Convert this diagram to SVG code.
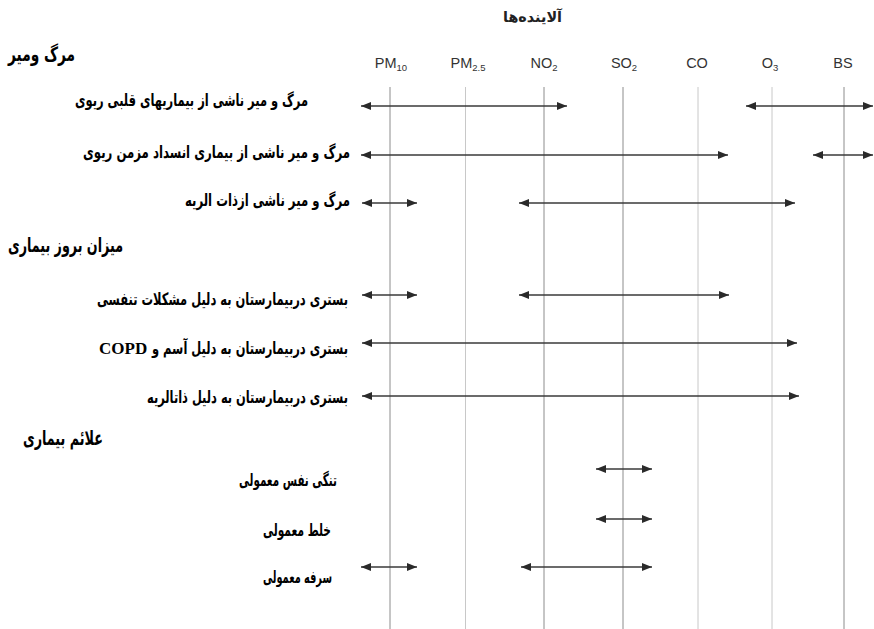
<svg xmlns="http://www.w3.org/2000/svg" width="874" height="629" viewBox="0 0 874 629">
<style>
.bg{fill:#fff}
.axis{stroke:#8c8c8c;stroke-width:1}
.axis.light{stroke:#c8c8c8}
.poll{font-family:"Liberation Sans",Arial,sans-serif;font-size:14.5px;fill:#333;text-anchor:middle}
.sub{font-size:9.5px}
.title{font-family:"DejaVu Sans",sans-serif;font-size:15px;font-weight:bold;fill:#222;direction:rtl;text-anchor:start}
.head{font-family:"DejaVu Sans",sans-serif;font-size:20px;font-weight:bold;fill:#000;direction:rtl;text-anchor:start}
.lab{font-family:"DejaVu Sans",sans-serif;font-size:17px;font-weight:bold;fill:#000;direction:rtl;text-anchor:start}
.lat{font-family:"Liberation Serif","Times New Roman",serif;font-size:17px;font-weight:bold;fill:#000}
.arr{stroke:#3a3a3a;stroke-width:1.4;fill:none;marker-start:url(#ah);marker-end:url(#ah)}
</style>
<defs>
<marker id="ah" viewBox="0 0 10 8" refX="10" refY="4" markerWidth="10" markerHeight="8" markerUnits="userSpaceOnUse" orient="auto-start-reverse">
<path d="M0,0 L10,4 L0,8 z" fill="#2a2a2a"/>
</marker>
</defs>
<rect class="bg" x="0" y="0" width="874" height="629"/>

<g id="pollutants">
<text class="title" x="562" y="22" textLength="59" lengthAdjust="spacingAndGlyphs">آلاینده‌ها</text>
<g id="col-pm10"><line class="axis" x1="390" y1="87" x2="390" y2="629"/><text class="poll" x="391" y="68">PM<tspan class="sub" dy="3">10</tspan></text></g>
<g id="col-pm25"><line class="axis light" x1="465.5" y1="87" x2="465.5" y2="629"/><text class="poll" x="468" y="68">PM<tspan class="sub" dy="3">2.5</tspan></text></g>
<g id="col-no2"><line class="axis" x1="544" y1="87" x2="544" y2="629"/><text class="poll" x="544" y="68">NO<tspan class="sub" dy="3">2</tspan></text></g>
<g id="col-so2"><line class="axis" x1="623" y1="87" x2="623" y2="629"/><text class="poll" x="624" y="68">SO<tspan class="sub" dy="3">2</tspan></text></g>
<g id="col-co"><line class="axis light" x1="698" y1="87" x2="698" y2="629"/><text class="poll" x="697" y="68">CO</text></g>
<g id="col-o3"><line class="axis light" x1="772" y1="87" x2="772" y2="629"/><text class="poll" x="770" y="68">O<tspan class="sub" dy="3">3</tspan></text></g>
<g id="col-bs"><line class="axis" x1="844" y1="87" x2="844" y2="629"/><text class="poll" x="843" y="68">BS</text></g>
</g>

<g id="sec-mortality"><text class="head" x="75" y="61" textLength="67" lengthAdjust="spacingAndGlyphs">مرگ ومیر</text></g>
<g id="row-cardio"><text class="lab" x="308" y="106" textLength="233" lengthAdjust="spacingAndGlyphs">مرگ و میر ناشی از بیماریهای قلبی ریوی</text></g>
<g id="row-copd-mort"><text class="lab" x="350" y="158" textLength="267" lengthAdjust="spacingAndGlyphs">مرگ و میر ناشی از بیماری انسداد مزمن ریوی</text></g>
<g id="row-pneu-mort"><text class="lab" x="350" y="206" textLength="165" lengthAdjust="spacingAndGlyphs">مرگ و میر ناشی ازذات الریه</text></g>

<g id="sec-incidence"><text class="head" x="123" y="252" textLength="115" lengthAdjust="spacingAndGlyphs">میزان بروز بیماری</text></g>
<g id="row-resp-hosp"><text class="lab" x="348" y="305" textLength="251" lengthAdjust="spacingAndGlyphs">بستری دربیمارستان به دلیل مشکلات تنفسی</text></g>
<g id="row-asthma-hosp"><text class="lab" x="348" y="354" textLength="196" lengthAdjust="spacingAndGlyphs">بستری دربیمارستان به دلیل آسم و</text><text class="lat" x="99" y="354">COPD</text></g>
<g id="row-pneu-hosp"><text class="lab" x="348" y="403" textLength="201" lengthAdjust="spacingAndGlyphs">بستری دربیمارستان به دلیل ذاتالریه</text></g>

<g id="sec-symptoms"><text class="head" x="103" y="445" textLength="80" lengthAdjust="spacingAndGlyphs">علائم بیماری</text></g>
<g id="row-dyspnea"><text class="lab" x="337" y="486" textLength="98" lengthAdjust="spacingAndGlyphs">تنگی نفس معمولی</text></g>
<g id="row-phlegm"><text class="lab" x="331" y="536" textLength="68" lengthAdjust="spacingAndGlyphs">خلط معمولی</text></g>
<g id="row-cough"><text class="lab" x="332" y="583" textLength="69" lengthAdjust="spacingAndGlyphs">سرفه معمولی</text></g>

<g id="connectors">
<line class="arr" x1="361" y1="106" x2="567" y2="106"/>
<line class="arr" x1="746" y1="106" x2="873" y2="106"/>
<line class="arr" x1="361" y1="155" x2="728" y2="155"/>
<line class="arr" x1="813" y1="155" x2="873" y2="155"/>
<line class="arr" x1="362" y1="203" x2="417" y2="203"/>
<line class="arr" x1="519" y1="203" x2="795" y2="203"/>
<line class="arr" x1="362" y1="295" x2="417" y2="295"/>
<line class="arr" x1="519" y1="295" x2="729" y2="295"/>
<line class="arr" x1="362" y1="343" x2="797" y2="343"/>
<line class="arr" x1="362" y1="396" x2="799" y2="396"/>
<line class="arr" x1="596" y1="469" x2="652" y2="469"/>
<line class="arr" x1="596" y1="519" x2="652" y2="519"/>
<line class="arr" x1="361" y1="567" x2="417" y2="567"/>
<line class="arr" x1="521" y1="567" x2="652" y2="567"/>
</g>
</svg>
